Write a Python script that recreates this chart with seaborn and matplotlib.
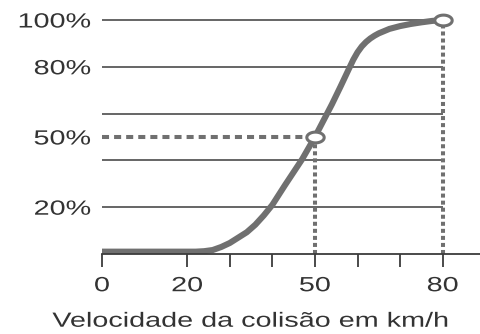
import matplotlib
matplotlib.use("Agg")
import matplotlib.pyplot as plt
import seaborn as sns
import numpy as np
from matplotlib.path import Path
from matplotlib.transforms import Affine2D
from matplotlib.patheffects import AbstractPathEffect

# ---- data ----
speed = [0, 10, 20, 22, 24, 26, 28, 30, 32, 34, 36, 38, 40, 43, 45, 47, 50, 52, 54, 56, 58,
         59, 60, 61, 62, 63, 64, 65, 67.5, 70, 72.5, 75, 77.5, 80]
risk = [1, 1, 1, 1.0, 1.2, 1.7, 3, 4.7, 7, 9.3, 12.5, 16.5, 21, 29.5, 35, 40.5, 50, 57, 64, 71.5, 79.2,
        83, 86.2, 88.7, 90.6, 92.1, 93.3, 94.3, 96.2, 97.4, 98.3, 99.0, 99.6, 100]
marked_speed = [50, 80]
marked_risk = [50, 100]
grid_levels = [20, 40, 60, 80, 100]
ytick_values = [20, 50, 80, 100]
ytick_labels = ["20%", "50%", "80%", "100%"]
xtick_values = [0, 20, 30, 40, 50, 60, 70, 80]
xtick_labels = ["0", "20", "", "", "50", "", "", "80"]
xlabel = "Velocidade da colisão em km/h"


class Stretch(AbstractPathEffect):
    """Widen glyphs horizontally around an anchor (the reference type is expanded)."""

    def __init__(self, sx, anchor="center"):
        super().__init__()
        self.sx = sx
        self.anchor = anchor

    def draw_path(self, renderer, gc, tpath, affine, rgbFace=None):
        ext = tpath.get_extents()
        if self.anchor == "right":
            cx = ext.x1
        elif self.anchor == "left":
            cx = ext.x0
        else:
            cx = 0.5 * (ext.x0 + ext.x1)
        pre = Affine2D().translate(-cx, 0).scale(self.sx, 1.0).translate(cx, 0)
        renderer.draw_path(gc, tpath, pre + affine, rgbFace)


sns.set_theme(style="white")
plt.rcParams["font.family"] = ["Liberation Sans", "DejaVu Sans"]

W, H = 481, 334
fig = plt.figure(figsize=(W / 100, H / 100), dpi=100)
ax_left, ax_bottom_px, ax_top_px = 102, 254, 8.3
ax = fig.add_axes([ax_left / W, (H - ax_bottom_px) / H, (W - ax_left) / W, (ax_bottom_px - ax_top_px) / H])
ax.set_xlim(0, 89)
ax.set_ylim(0, 105)

text_col = "#333333"
curve_col = "#707070"
grid_col = "#3c3c3c"

# gridlines
for g in grid_levels:
    ax.plot([0, marked_speed[1]], [g, g], color=grid_col, lw=1.1, zorder=1, solid_capstyle="butt")

# dashed horizontal at 50%
ax.plot([0, marked_speed[0]], [marked_risk[0]] * 2, color=curve_col, lw=2.9,
        dashes=(1.75, 1.25), dash_capstyle="butt", zorder=2)
# dotted verticals
for xs, ys in zip(marked_speed, marked_risk):
    ax.plot([xs, xs], [0, ys], color=curve_col, lw=2.9, dashes=(1.0, 0.75),
            dash_capstyle="butt", zorder=2)

# curve
sns.lineplot(x=speed, y=risk, ax=ax, color=curve_col, lw=4.4, zorder=3,
             solid_joinstyle="round", solid_capstyle="butt")

# ellipse markers
t = np.linspace(0, 2 * np.pi, 60)
ell = Path(np.column_stack([np.cos(t), 0.62 * np.sin(t)]), closed=True)
ax.plot(marked_speed, marked_risk, linestyle="none", marker=ell, markersize=12.5,
        markerfacecolor="white", markeredgecolor=curve_col, markeredgewidth=2.2, zorder=4,
        clip_on=False)

# axes styling
for s in ["left", "right", "top"]:
    ax.spines[s].set_visible(False)
ax.spines["bottom"].set_color(grid_col)
ax.spines["bottom"].set_linewidth(1.3)
ax.spines["bottom"].set_zorder(5)

fs = 14.8
ax.set_xticks(xtick_values)
ax.set_xticklabels(xtick_labels)
ax.set_yticks(ytick_values)
ax.set_yticklabels(ytick_labels)
ax.tick_params(axis="x", direction="out", length=9, width=1.3, color=grid_col,
               labelsize=fs, labelcolor=text_col, pad=7, bottom=True)
ax.tick_params(axis="y", length=0, labelsize=fs, labelcolor=text_col, pad=8)
ax.grid(False)

ax.set_xlabel(xlabel, fontsize=fs, color=text_col)
ax.xaxis.set_label_coords(148 / (W - ax_left), -0.235)

sx = 1.4
for lab in ax.get_xticklabels():
    lab.set_path_effects([Stretch(sx, "center")])
for lab in ax.get_yticklabels():
    lab.set_path_effects([Stretch(sx, "right")])
ax.xaxis.label.set_path_effects([Stretch(sx, "center")])

fig.savefig("out.png", dpi=100, facecolor="white")
